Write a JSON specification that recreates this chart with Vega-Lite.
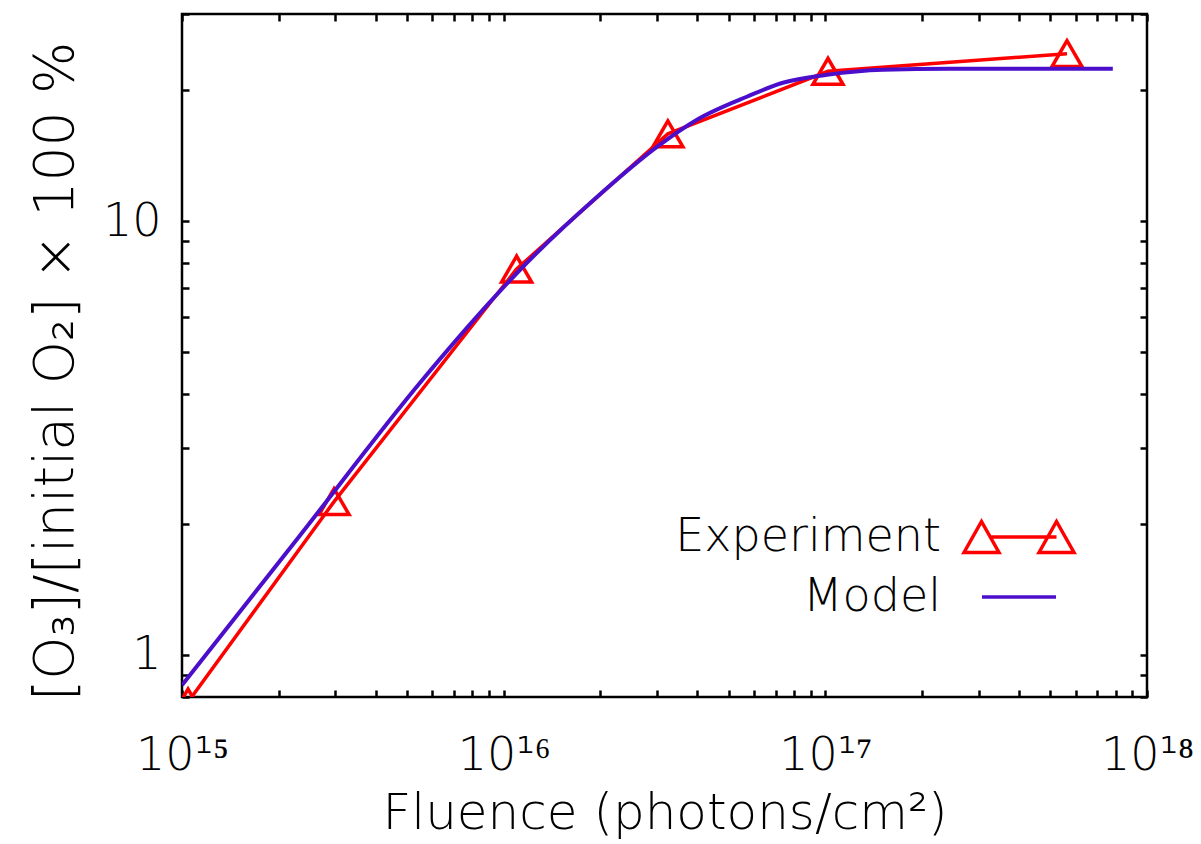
{
  "$schema": "https://vega.github.io/schema/vega-lite/v6.json",
  "width": 965,
  "height": 683,
  "autosize": {"type": "none"},
  "padding": {"left": 182, "top": 14, "right": 54, "bottom": 147},
  "background": "white",
  "config": {
    "view": {"stroke": "black", "strokeWidth": 2.5},
    "axis": {
      "domain": false,
      "grid": false,
      "ticks": true,
      "tickSize": -7,
      "tickColor": "black",
      "tickWidth": 2.5,
      "labelFont": "DejaVu Sans",
      "labelFontWeight": 200,
      "labelColor": "black",
      "titleFont": "DejaVu Sans",
      "titleFontWeight": 200,
      "titleColor": "black",
      "labelOverlap": false,
      "labelFlush": false,
      "labelBound": false
    },
    "legend": {
      "orient": "none",
      "legendX": 814,
      "legendY": 500,
      "padding": 0,
      "labelFont": "DejaVu Sans",
      "labelFontWeight": 200,
      "labelFontSize": 46,
      "labelColor": "black",
      "labelAlign": "right",
      "labelOffset": -101,
      "symbolSize": 400,
      "symbolStrokeWidth": 3.5,
      "symbolOpacity": 1,
      "symbolFillColor": "transparent",
      "rowPadding": 14,
      "labelLimit": 0
    }
  },
  "data": {
    "values": [
      {"series": "Experiment", "fluence": 1.044e15, "value": 0.779},
      {"series": "Experiment", "fluence": 2.97e15, "value": 2.256},
      {"series": "Experiment", "fluence": 1.097e16, "value": 7.75},
      {"series": "Experiment", "fluence": 3.24e16, "value": 15.88},
      {"series": "Experiment", "fluence": 1.019e17, "value": 22.13},
      {"series": "Experiment", "fluence": 5.64e17, "value": 24.31},
      {"series": "Model", "fluence": 1.0e15, "value": 0.852},
      {"series": "Model", "fluence": 2.33e15, "value": 1.888},
      {"series": "Model", "fluence": 5.57e15, "value": 4.29},
      {"series": "Model", "fluence": 9.06e15, "value": 6.5},
      {"series": "Model", "fluence": 1.1e16, "value": 7.59},
      {"series": "Model", "fluence": 1.95e16, "value": 11.36},
      {"series": "Model", "fluence": 2.996e16, "value": 14.82},
      {"series": "Model", "fluence": 3.99e16, "value": 17.12},
      {"series": "Model", "fluence": 5.7e16, "value": 19.34},
      {"series": "Model", "fluence": 7.38e16, "value": 20.83},
      {"series": "Model", "fluence": 1.012e17, "value": 21.73},
      {"series": "Model", "fluence": 1.51e17, "value": 22.32},
      {"series": "Model", "fluence": 2.44e17, "value": 22.44},
      {"series": "Model", "fluence": 7.83e17, "value": 22.44}
    ]
  },
  "layer": [
    {
      "transform": [{"filter": "datum.series == 'Experiment'"}],
      "mark": {"type": "line", "color": "#ff0000", "strokeWidth": 3.5, "clip": true},
      "encoding": {
        "x": {
          "field": "fluence", "type": "quantitative",
          "scale": {"type": "log", "domain": [1e15, 1e18], "nice": false},
          "axis": {
            "orient": "bottom",
            "title": "Fluence (photons/cm²)",
            "titleFontSize": 50,
            "titlePadding": 10,
            "labelFontSize": 46,
            "labelPadding": 43,
            "values": [1e15, 2e15, 3e15, 4e15, 5e15, 6e15, 7e15, 8e15, 9e15, 1e16, 2e16, 3e16, 4e16, 5e16, 6e16, 7e16, 8e16, 9e16, 1e17, 2e17, 3e17, 4e17, 5e17, 6e17, 7e17, 8e17, 9e17, 1e18],
            "labelExpr": "datum.value == 1e15 ? '10¹⁵' : datum.value == 1e16 ? '10¹⁶' : datum.value == 1e17 ? '10¹⁷' : datum.value == 1e18 ? '10¹⁸' : ''",
            "encode": {"ticks": {"update": {"y2": {"signal": "abs(log(datum.value)/LN10 - round(log(datum.value)/LN10)) < 0.001 ? -14 : -7"}}}}
          }
        },
        "y": {
          "field": "value", "type": "quantitative",
          "scale": {"type": "log", "domain": [0.8, 30], "nice": false},
          "axis": {
            "orient": "left",
            "title": "[O₃]/[initial O₂] × 100 %",
            "titleFontSize": 55,
            "titlePadding": 18,
            "titleY": 357,
            "labelFontSize": 46,
            "labelPadding": 28,
            "values": [0.8, 0.9, 1, 2, 3, 4, 5, 6, 7, 8, 9, 10, 20, 30],
            "labelExpr": "datum.value == 1 ? '1' : datum.value == 10 ? '10' : ''",
            "encode": {"ticks": {"update": {"x2": {"signal": "abs(log(datum.value)/LN10 - round(log(datum.value)/LN10)) < 0.001 ? 20 : 10"}}}}
          }
        }
      }
    },
    {
      "transform": [{"filter": "datum.series == 'Experiment'"}],
      "mark": {"type": "point", "shape": "triangle-up", "filled": false, "color": "#ff0000", "size": 900, "strokeWidth": 3.5, "opacity": 1, "clip": true},
      "encoding": {
        "x": {"field": "fluence", "type": "quantitative", "axis": null},
        "y": {"field": "value", "type": "quantitative", "axis": null}
      }
    },
    {
      "transform": [{"filter": "datum.series == 'Model'"}],
      "mark": {"type": "line", "color": "#4b0fcb", "strokeWidth": 4, "interpolate": "monotone", "clip": true},
      "encoding": {
        "x": {
          "field": "fluence", "type": "quantitative",
          "axis": {
            "orient": "top",
            "title": null,
            "labels": false,
            "values": [1e15, 2e15, 3e15, 4e15, 5e15, 6e15, 7e15, 8e15, 9e15, 1e16, 2e16, 3e16, 4e16, 5e16, 6e16, 7e16, 8e16, 9e16, 1e17, 2e17, 3e17, 4e17, 5e17, 6e17, 7e17, 8e17, 9e17, 1e18],
            "encode": {"ticks": {"update": {"y2": {"signal": "abs(log(datum.value)/LN10 - round(log(datum.value)/LN10)) < 0.001 ? 14 : 7"}}}}
          }
        },
        "y": {
          "field": "value", "type": "quantitative",
          "axis": {
            "orient": "right",
            "title": null,
            "labels": false,
            "values": [0.8, 0.9, 1, 2, 3, 4, 5, 6, 7, 8, 9, 10, 20, 30],
            "encode": {"ticks": {"update": {"x2": {"signal": "abs(log(datum.value)/LN10 - round(log(datum.value)/LN10)) < 0.001 ? -20 : -10"}}}}
          }
        }
      }
    },
    {
      "mark": {"type": "point", "filled": false, "opacity": 0, "clip": true},
      "encoding": {
        "x": {"field": "fluence", "type": "quantitative", "axis": null},
        "y": {"field": "value", "type": "quantitative", "axis": null},
        "shape": {
          "field": "series", "type": "nominal",
          "scale": {"domain": ["Experiment", "Model"], "range": ["M-2.75,0H3.75M-5.5,1.55L-3.75,-1.55L-2,1.55ZM2,1.55L3.75,-1.55L5.5,1.55Z", "M-3.7,0H3.7"]},
          "legend": {"title": null}
        },
        "stroke": {
          "field": "series", "type": "nominal",
          "scale": {"domain": ["Experiment", "Model"], "range": ["#ff0000", "#4b0fcb"]},
          "legend": {"title": null}
        }
      }
    }
  ]
}
